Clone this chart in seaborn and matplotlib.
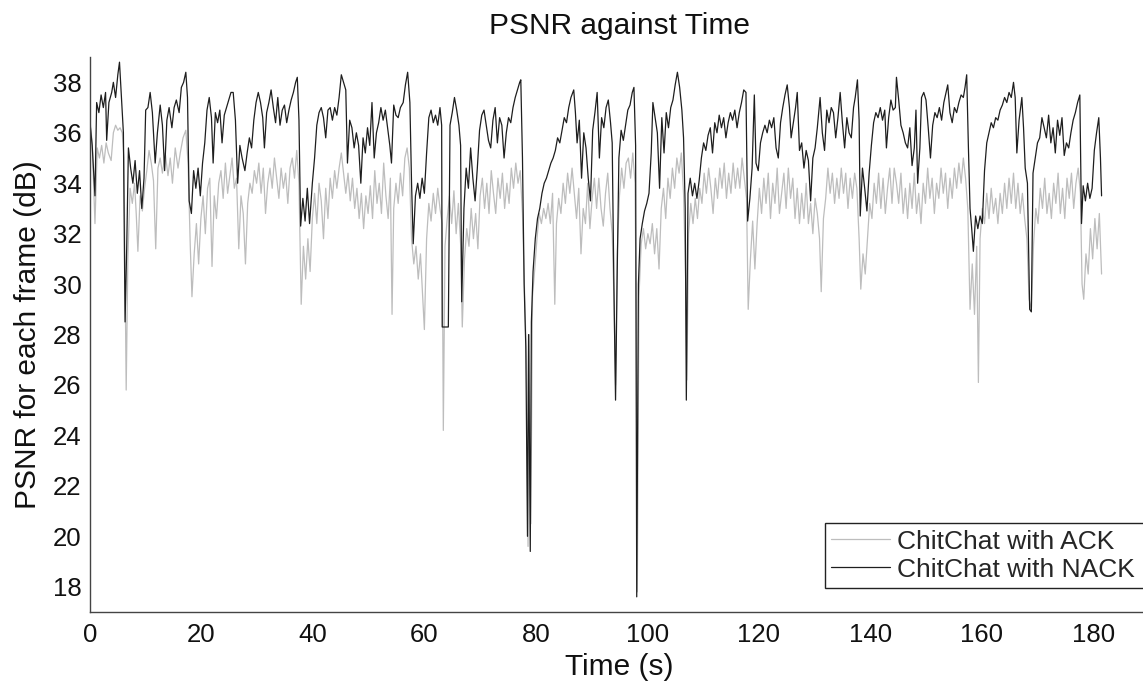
import matplotlib
matplotlib.use("Agg")
import matplotlib.pyplot as plt
import seaborn as sns
import pandas as pd

# ---- data ----
time_nack = [
    0.0, 0.4, 0.9, 1.2, 1.6, 2.0, 2.4, 2.8, 3.0, 3.4, 3.9, 4.2, 4.6, 5.0, 5.3, 5.6, 6.0, 6.3, 6.6, 6.9,
    7.3, 7.7, 8.1, 8.5, 8.9, 9.3, 9.7, 10.0, 10.4, 10.8, 11.2, 11.7, 12.1, 12.6, 13.0, 13.4, 13.8, 14.2, 14.7, 15.1,
    15.5, 16.0, 16.4, 16.8, 17.2, 17.5, 17.8, 18.2, 18.6, 19.0, 19.4, 19.8, 20.2, 20.6, 21.0, 21.4, 21.8, 22.1, 22.5, 22.9,
    23.3, 23.7, 24.1, 24.5, 24.9, 25.3, 25.7, 26.1, 26.5, 26.9, 27.3, 27.8, 28.2, 28.6, 29.0, 29.4, 29.8, 30.2, 30.6, 31.0,
    31.3, 31.7, 32.1, 32.5, 32.9, 33.3, 33.7, 34.1, 34.5, 34.9, 35.3, 35.7, 36.1, 36.5, 36.9, 37.2, 37.5, 37.8, 38.2, 38.6,
    39.0, 39.4, 39.9, 40.3, 40.7, 41.1, 41.5, 41.9, 42.3, 42.7, 43.1, 43.5, 43.9, 44.3, 44.7, 45.1, 45.5, 45.9, 46.2, 46.6,
    47.0, 47.4, 47.8, 48.2, 48.6, 49.0, 49.4, 49.8, 50.2, 50.6, 51.0, 51.4, 51.8, 52.2, 52.6, 53.0, 53.4, 53.8, 54.1, 54.5,
    54.9, 55.3, 55.7, 56.2, 56.6, 57.0, 57.4, 57.7, 58.0, 58.4, 58.8, 59.2, 59.6, 60.0, 60.4, 60.8, 61.2, 61.6, 62.0, 62.4,
    62.8, 63.1, 63.2, 64.3, 64.6, 65.0, 65.4, 65.8, 66.2, 66.5, 66.7, 67.1, 67.5, 67.9, 68.3, 68.7, 69.1, 69.5, 69.9, 70.3,
    70.7, 71.1, 71.5, 71.9, 72.3, 72.7, 73.1, 73.5, 73.9, 74.3, 74.7, 75.1, 75.5, 75.9, 76.3, 76.7, 77.1, 77.3, 77.6, 77.9,
    78.2, 78.5, 78.7, 79.0, 79.2, 79.5, 79.9, 80.3, 80.7, 81.1, 81.5, 81.9, 82.3, 82.7, 83.1, 83.5, 83.9, 84.3, 84.7, 85.1,
    85.5, 85.9, 86.3, 86.8, 87.1, 87.4, 87.8, 88.2, 88.6, 89.0, 89.4, 89.8, 90.2, 90.6, 91.0, 91.4, 91.8, 92.2, 92.6, 93.0,
    93.4, 93.7, 94.0, 94.3, 94.6, 94.9, 95.3, 95.7, 96.1, 96.5, 96.9, 97.3, 97.6, 97.9, 98.1, 98.4, 98.7, 99.1, 99.5, 99.9,
    100.3, 100.7, 101.0, 101.4, 101.8, 102.2, 102.6, 103.0, 103.4, 103.8, 104.2, 104.6, 105.0, 105.4, 105.8, 106.2, 106.5, 106.8, 107.0, 107.3,
    107.7, 108.1, 108.5, 108.9, 109.3, 109.7, 110.1, 110.5, 110.9, 111.3, 111.7, 112.1, 112.5, 112.9, 113.3, 113.7, 114.1, 114.5, 114.9, 115.3,
    115.7, 116.1, 116.5, 116.9, 117.3, 117.7, 118.0, 118.4, 118.8, 119.2, 119.5, 119.9, 120.3, 120.7, 121.1, 121.5, 121.9, 122.3, 122.7, 123.1,
    123.5, 123.9, 124.3, 124.7, 125.1, 125.5, 125.8, 126.2, 126.6, 126.9, 127.3, 127.7, 128.1, 128.5, 128.9, 129.3, 129.7, 130.1, 130.5, 131.0,
    131.4, 131.8, 132.2, 132.6, 133.0, 133.4, 133.8, 134.2, 134.6, 135.0, 135.4, 135.8, 136.2, 136.6, 137.0, 137.3, 137.7, 138.0, 138.2, 138.6,
    139.0, 139.4, 139.8, 140.2, 140.6, 141.0, 141.4, 141.8, 142.2, 142.6, 142.9, 143.3, 143.7, 144.1, 144.5, 144.7, 145.1, 145.5, 145.9, 146.3,
    146.7, 147.1, 147.5, 147.9, 148.2, 148.5, 148.9, 149.2, 149.6, 150.0, 150.4, 150.8, 151.2, 151.6, 152.0, 152.4, 152.8, 153.2, 153.6, 153.9,
    154.3, 154.7, 155.1, 155.5, 155.9, 156.3, 156.7, 157.0, 157.3, 157.6, 157.9, 158.2, 158.5, 158.9, 159.3, 159.7, 160.1, 160.5, 160.9, 161.3,
    161.7, 162.1, 162.5, 162.9, 163.3, 163.7, 164.1, 164.5, 164.9, 165.3, 165.7, 166.0, 166.3, 166.7, 167.2, 167.5, 167.8, 168.2, 168.6, 168.9,
    169.2, 169.6, 170.0, 170.4, 170.8, 171.2, 171.6, 172.0, 172.4, 172.8, 173.2, 173.6, 174.0, 174.4, 174.8, 175.2, 175.6, 176.0, 176.4, 176.8,
    177.2, 177.6, 177.9, 178.2, 178.6, 179.0, 179.4, 179.8, 180.2, 180.6, 181.0, 181.3, 181.5,
]
psnr_nack = [
    36.4, 35.5, 33.5, 37.2, 36.8, 37.5, 37.0, 37.6, 35.7, 37.2, 37.6, 38.0, 37.4, 38.3, 38.8, 37.6, 36.0, 28.5, 31.5, 35.4,
    34.6, 34.0, 34.9, 33.6, 34.5, 33.0, 34.2, 36.9, 37.0, 37.6, 36.8, 34.8, 36.0, 37.1, 36.3, 34.5, 36.5, 37.0, 36.2, 37.0,
    37.3, 36.8, 37.8, 38.0, 38.4, 37.4, 33.3, 32.8, 34.5, 33.8, 34.6, 33.5, 34.8, 35.6, 36.9, 37.4, 36.6, 34.8, 36.8, 36.4,
    36.9, 35.6, 36.7, 37.0, 37.3, 37.6, 37.6, 36.5, 34.0, 35.5, 35.0, 34.5, 35.2, 35.8, 35.4, 36.5, 37.2, 37.6, 37.2, 36.6,
    35.4, 36.8, 37.2, 37.7, 37.0, 36.4, 37.4, 36.3, 36.9, 37.1, 36.4, 36.9, 37.3, 37.6, 38.0, 38.2, 36.5, 32.3, 33.4, 32.5,
    33.8, 32.4, 34.0, 35.0, 36.3, 36.8, 37.0, 36.6, 35.8, 36.9, 37.0, 36.5, 37.0, 36.7, 37.4, 38.3, 38.0, 37.7, 34.8, 36.5,
    36.2, 35.4, 36.0, 35.5, 34.0, 35.8, 35.2, 36.2, 35.5, 37.2, 35.0, 36.0, 36.4, 37.0, 36.5, 36.9, 36.2, 35.5, 34.8, 37.1,
    36.7, 36.6, 37.0, 37.2, 37.9, 38.4, 37.2, 34.0, 31.6, 33.5, 34.0, 33.4, 34.2, 33.6, 35.2, 36.6, 36.9, 36.4, 36.7, 36.3,
    37.0, 36.3, 28.3, 28.3, 36.3, 36.8, 37.4, 36.9, 36.3, 35.5, 29.3, 33.0, 34.6, 33.8, 35.4, 34.2, 33.3, 34.6, 36.1, 36.7,
    36.9, 36.3, 35.7, 35.4, 36.5, 37.0, 35.6, 36.6, 36.3, 35.0, 36.0, 36.6, 36.4, 37.0, 37.4, 37.7, 38.0, 38.1, 35.0, 30.0,
    27.5, 20.0, 28.0, 19.4, 28.5, 30.5, 31.8, 32.6, 33.0, 33.6, 34.0, 34.2, 34.5, 34.8, 35.0, 35.3, 35.8, 35.6, 36.1, 36.6,
    36.4, 37.0, 37.4, 37.7, 36.8, 35.6, 36.5, 34.2, 36.0, 35.4, 34.2, 33.3, 36.1, 36.8, 37.6, 35.0, 36.6, 36.2, 37.0, 37.3,
    36.4, 35.6, 30.0, 25.4, 30.5, 35.0, 36.1, 35.7, 36.3, 36.9, 37.1, 37.6, 37.8, 35.5, 17.6, 30.0, 31.8, 32.4, 32.9, 33.2,
    33.6, 35.2, 37.2, 36.6, 36.0, 33.8, 36.6, 35.2, 36.8, 36.2, 37.0, 37.3, 37.9, 38.4, 37.8, 36.9, 35.8, 33.0, 25.4, 33.6,
    34.2, 33.5, 34.0, 33.4, 34.1, 35.0, 35.6, 35.3, 35.9, 36.2, 35.2, 36.4, 36.0, 36.7, 36.2, 36.6, 35.8, 36.4, 36.8, 36.5,
    36.9, 36.2, 36.8, 37.2, 37.7, 37.6, 32.5, 33.4, 34.6, 37.5, 34.8, 34.5, 35.6, 36.0, 36.3, 36.0, 36.5, 36.2, 36.6, 35.4,
    35.0, 36.4, 37.0, 37.5, 37.9, 37.0, 35.8, 36.4, 37.0, 37.6, 35.3, 35.6, 34.6, 35.3, 34.9, 33.3, 35.0, 35.4, 36.2, 37.4,
    36.0, 35.3, 36.9, 36.4, 37.0, 36.8, 35.8, 36.6, 37.6, 36.4, 35.4, 36.6, 36.0, 35.8, 37.0, 37.4, 38.1, 36.5, 32.7, 34.6,
    33.8, 32.9, 34.4, 35.5, 36.4, 36.8, 36.6, 37.0, 36.5, 36.9, 35.4, 36.6, 37.3, 36.9, 37.0, 38.2, 37.3, 36.3, 36.0, 35.6,
    35.4, 36.2, 34.7, 35.4, 36.9, 34.0, 35.4, 37.4, 37.6, 37.3, 36.2, 35.0, 36.3, 36.8, 36.6, 37.0, 36.5, 37.2, 37.6, 37.9,
    36.8, 36.4, 37.0, 36.8, 37.2, 37.5, 37.4, 37.8, 38.3, 35.5, 33.0, 32.2, 31.3, 32.7, 32.2, 32.7, 32.4, 34.5, 35.6, 36.0,
    36.4, 36.2, 36.6, 36.5, 36.9, 37.1, 37.4, 37.2, 37.6, 37.4, 38.0, 37.4, 35.2, 36.5, 37.4, 36.2, 34.6, 34.0, 29.0, 28.9,
    34.4, 35.0, 35.6, 35.8, 36.6, 36.2, 35.8, 36.7, 35.6, 36.2, 35.2, 36.5, 35.9, 36.6, 35.1, 35.6, 35.4, 36.0, 36.5, 36.8,
    37.2, 37.5, 32.4, 33.9, 33.3, 34.0, 33.4, 33.8, 35.3, 36.0, 36.6, 35.0, 33.5,
]

time_ack = [
    0.0, 0.4, 0.9, 1.3, 1.7, 2.1, 2.5, 2.9, 3.3, 3.8, 4.2, 4.6, 5.0, 5.4, 5.8, 6.1, 6.5, 6.8, 7.2, 7.6,
    8.0, 8.3, 8.6, 9.0, 9.4, 9.8, 10.2, 10.6, 11.0, 11.4, 11.8, 12.2, 12.6, 13.0, 13.5, 14.0, 14.4, 14.8, 15.3, 15.8,
    16.2, 16.7, 17.2, 17.6, 18.0, 18.3, 18.7, 19.1, 19.5, 19.9, 20.3, 20.7, 21.1, 21.5, 21.9, 22.3, 22.7, 23.1, 23.5, 23.9,
    24.3, 24.7, 25.1, 25.5, 25.9, 26.3, 26.7, 27.1, 27.5, 27.9, 28.3, 28.7, 29.1, 29.5, 29.9, 30.3, 30.7, 31.1, 31.5, 31.9,
    32.3, 32.7, 33.1, 33.5, 33.9, 34.3, 34.7, 35.1, 35.5, 35.9, 36.3, 36.7, 37.1, 37.5, 37.9, 38.3, 38.7, 39.1, 39.5, 39.9,
    40.3, 40.7, 41.1, 41.5, 41.9, 42.3, 42.7, 43.1, 43.5, 43.9, 44.3, 44.7, 45.1, 45.5, 45.9, 46.3, 46.7, 47.1, 47.5, 47.9,
    48.3, 48.7, 49.1, 49.5, 49.9, 50.3, 50.7, 51.1, 51.5, 51.9, 52.3, 52.7, 53.1, 53.5, 53.9, 54.2, 54.5, 54.9, 55.3, 55.7,
    56.1, 56.5, 56.9, 57.3, 57.7, 58.1, 58.5, 58.9, 59.3, 59.7, 60.0, 60.4, 60.8, 61.2, 61.6, 62.0, 62.4, 62.8, 63.2, 63.4,
    63.7, 64.1, 64.5, 64.9, 65.3, 65.7, 66.1, 66.5, 66.8, 67.2, 67.6, 68.0, 68.4, 68.8, 69.2, 69.6, 70.0, 70.4, 70.8, 71.2,
    71.6, 72.0, 72.4, 72.8, 73.2, 73.6, 74.0, 74.4, 74.8, 75.2, 75.6, 76.0, 76.4, 76.8, 77.2, 77.6, 77.9, 78.3, 78.6, 78.8,
    79.1, 79.4, 79.8, 80.2, 80.6, 81.0, 81.4, 81.8, 82.2, 82.6, 83.0, 83.4, 83.7, 84.1, 84.5, 84.9, 85.3, 85.7, 86.1, 86.5,
    86.9, 87.3, 87.7, 88.1, 88.5, 88.9, 89.3, 89.7, 90.1, 90.5, 90.9, 91.3, 91.7, 92.1, 92.5, 92.9, 93.3, 93.7, 94.0, 94.3,
    94.6, 95.0, 95.4, 95.8, 96.2, 96.6, 97.0, 97.4, 97.8, 98.0, 98.2, 98.5, 98.9, 99.3, 99.7, 100.1, 100.5, 100.9, 101.3, 101.7,
    102.1, 102.5, 102.9, 103.3, 103.7, 104.1, 104.5, 104.9, 105.3, 105.7, 106.1, 106.5, 106.9, 107.1, 107.4, 107.8, 108.2, 108.6, 109.0, 109.4,
    109.8, 110.2, 110.6, 111.0, 111.4, 111.8, 112.2, 112.6, 113.0, 113.4, 113.8, 114.2, 114.6, 115.0, 115.4, 115.8, 116.2, 116.6, 117.0, 117.4,
    117.8, 118.1, 118.5, 118.9, 119.3, 119.7, 120.1, 120.5, 120.9, 121.3, 121.7, 122.1, 122.5, 122.9, 123.3, 123.7, 124.1, 124.5, 124.9, 125.3,
    125.7, 126.1, 126.5, 126.9, 127.3, 127.7, 128.1, 128.5, 128.9, 129.3, 129.7, 130.1, 130.5, 130.9, 131.2, 131.6, 132.0, 132.4, 132.8, 133.2,
    133.6, 134.0, 134.4, 134.8, 135.2, 135.6, 136.0, 136.4, 136.8, 137.2, 137.6, 138.0, 138.3, 138.7, 139.1, 139.5, 139.9, 140.3, 140.7, 141.1,
    141.5, 141.9, 142.3, 142.7, 143.1, 143.5, 143.9, 144.3, 144.7, 145.1, 145.5, 145.9, 146.3, 146.7, 147.1, 147.5, 147.9, 148.3, 148.7, 149.1,
    149.5, 149.9, 150.3, 150.7, 151.1, 151.5, 151.9, 152.3, 152.7, 153.1, 153.5, 153.9, 154.3, 154.7, 155.1, 155.5, 155.9, 156.3, 156.7, 157.1,
    157.5, 157.9, 158.3, 158.7, 159.1, 159.4, 159.7, 160.1, 160.5, 160.9, 161.3, 161.7, 162.1, 162.5, 162.9, 163.3, 163.7, 164.1, 164.5, 164.9,
    165.3, 165.7, 166.1, 166.5, 166.9, 167.3, 167.7, 168.1, 168.5, 168.9, 169.3, 169.7, 170.1, 170.5, 170.9, 171.3, 171.7, 172.1, 172.5, 172.9,
    173.3, 173.7, 174.1, 174.5, 174.9, 175.3, 175.7, 176.1, 176.5, 176.9, 177.3, 177.7, 178.0, 178.3, 178.7, 179.1, 179.5, 179.9, 180.3, 180.7,
    181.1, 181.5,
]
psnr_ack = [
    36.5, 35.6, 32.4, 35.4, 35.0, 35.5, 34.8, 35.6, 35.2, 34.9, 36.0, 36.3, 36.1, 36.2, 36.0, 35.0, 25.8, 31.0, 33.8, 33.2,
    34.0, 32.8, 31.3, 33.5, 32.9, 33.8, 34.5, 35.3, 34.8, 34.1, 31.4, 34.6, 35.0, 34.4, 35.2, 34.3, 35.0, 34.0, 35.4, 34.6,
    35.2, 35.8, 36.1, 34.8, 31.5, 29.5, 31.2, 32.4, 30.8, 32.6, 33.5, 32.0, 33.8, 34.2, 30.7, 33.5, 32.6, 34.0, 34.5, 33.4,
    34.8, 33.6, 34.3, 35.0, 33.8, 34.2, 31.4, 33.5, 32.8, 30.8, 33.2, 34.0, 33.6, 34.5, 34.0, 34.8, 33.6, 34.6, 32.8, 34.0,
    34.6, 33.8, 35.0, 34.2, 33.4, 34.6, 33.8, 34.4, 33.2, 34.6, 35.0, 34.2, 35.3, 34.0, 29.2, 31.5, 30.2, 31.8, 30.5, 32.6,
    33.6, 32.4, 34.0, 33.3, 31.8, 33.8, 32.6, 34.2, 33.4, 34.5, 33.8, 34.6, 35.2, 34.4, 33.6, 34.4, 33.3, 34.2, 33.0, 33.8,
    32.6, 33.6, 32.2, 33.5, 32.8, 33.9, 32.6, 34.5, 33.2, 34.0, 32.8, 34.8, 33.5, 32.6, 34.2, 28.8, 33.0, 34.0, 33.2, 34.4,
    33.5, 35.0, 35.4, 34.6, 31.8, 30.8, 31.5, 30.2, 31.2, 29.5, 28.2, 31.8, 33.2, 32.5, 33.6, 32.8, 33.8, 33.0, 32.4, 24.2,
    31.5, 32.6, 33.5, 32.4, 33.7, 32.0, 33.2, 31.6, 28.3, 31.0, 32.2, 31.5, 33.0, 31.8, 32.8, 31.4, 33.5, 34.2, 33.0, 34.0,
    32.8, 34.5, 33.6, 32.8, 34.2, 33.4, 34.4, 33.0, 34.0, 33.2, 34.6, 33.8, 34.8, 34.0, 34.5, 32.8, 30.3, 27.0, 19.6, 28.0,
    20.5, 29.5, 30.6, 31.8, 32.8, 32.4, 33.0, 32.6, 33.2, 32.4, 33.6, 29.2, 32.4, 33.4, 32.8, 34.0, 33.2, 34.4, 33.6, 34.6,
    33.6, 32.6, 33.8, 31.2, 33.0, 32.4, 34.0, 32.2, 33.4, 34.2, 33.0, 34.2, 33.0, 32.3, 33.6, 34.4, 33.0, 32.0, 29.6, 26.0,
    31.2, 33.5, 34.6, 33.8, 34.8, 35.0, 34.2, 35.2, 34.0, 29.0, 17.8, 29.5, 31.6, 32.2, 31.4, 32.0, 31.6, 32.4, 31.2, 32.2,
    30.6, 33.0, 33.8, 32.6, 34.2, 33.4, 34.6, 33.8, 35.0, 34.4, 35.2, 33.6, 30.0, 26.2, 32.0, 33.2, 32.4, 33.4, 32.6, 33.8,
    33.2, 34.4, 33.6, 34.6, 33.8, 32.8, 34.2, 33.4, 34.6, 33.8, 34.8, 33.4, 34.4, 33.6, 34.8, 33.8, 34.6, 33.8, 35.0, 34.2,
    33.4, 29.0, 31.0, 32.5, 30.6, 32.4, 33.8, 32.8, 34.2, 33.2, 34.4, 32.6, 34.0, 33.2, 34.6, 32.8, 33.6, 34.4, 33.0, 34.6,
    33.4, 34.2, 32.6, 33.8, 32.4, 33.6, 32.6, 34.0, 32.4, 33.2, 32.0, 33.4, 32.8, 31.8, 29.7, 32.6, 33.4, 34.6, 33.6, 34.4,
    33.2, 34.2, 33.4, 34.6, 33.6, 34.4, 33.0, 34.2, 33.4, 34.4, 33.8, 31.8, 29.8, 31.2, 30.4, 31.8, 33.2, 32.6, 34.0, 33.2,
    34.4, 33.0, 34.2, 32.8, 33.8, 34.6, 33.2, 34.6, 34.0, 33.2, 34.4, 32.8, 33.8, 32.6, 34.0, 33.0, 34.4, 32.8, 33.6, 32.4,
    34.0, 33.2, 34.6, 33.4, 34.2, 32.8, 34.0, 33.4, 34.6, 33.6, 34.4, 33.0, 34.2, 33.4, 34.6, 33.8, 34.8, 34.0, 35.0, 34.2,
    33.0, 29.0, 30.8, 28.8, 31.5, 26.1, 31.8, 33.0, 32.4, 33.6, 32.6, 33.8, 32.8, 33.4, 32.4, 33.6, 32.8, 34.0, 33.0, 34.2,
    33.2, 34.4, 33.0, 34.0, 32.8, 33.6, 32.6, 31.8, 29.4, 29.0, 31.6, 33.0, 32.4, 33.8, 33.0, 34.2, 32.8, 33.6, 32.6, 34.0,
    33.2, 34.4, 32.8, 33.8, 32.6, 34.2, 33.4, 34.4, 33.0, 34.0, 34.6, 33.6, 30.0, 29.4, 31.2, 30.4, 32.2, 31.0, 32.6, 31.4,
    32.8, 30.4,
]

series_labels = ["ChitChat with ACK", "ChitChat with NACK"]
x_ticks = [0, 20, 40, 60, 80, 100, 120, 140, 160, 180]
y_ticks = [18, 20, 22, 24, 26, 28, 30, 32, 34, 36, 38]

df_ack = pd.DataFrame({"Time": time_ack, "PSNR": psnr_ack})
df_nack = pd.DataFrame({"Time": time_nack, "PSNR": psnr_nack})

sns.set_style("white")
plt.rcParams["font.family"] = ["Liberation Sans", "DejaVu Sans"]

fig = plt.figure(figsize=(11.43, 6.85), dpi=100)
ax = fig.add_axes([0.0787, 0.1066, 0.9265, 0.810])

sns.lineplot(data=df_ack, x="Time", y="PSNR", ax=ax, color="#bdbdbd", linewidth=0.9,
             estimator=None, sort=False, label=series_labels[0])
sns.lineplot(data=df_nack, x="Time", y="PSNR", ax=ax, color="#1e1e1e", linewidth=0.9,
             estimator=None, sort=False, label=series_labels[1])

ax.set_xlim(0, 190)
ax.set_ylim(17, 39)
ax.set_xticks(x_ticks)
ax.set_yticks(y_ticks)
ax.tick_params(axis="both", direction="in", length=7.5, width=1, labelsize=18.5,
               color="#333333", labelcolor="#111111")
ax.tick_params(axis="x", pad=8)
ax.tick_params(axis="y", pad=6)

for side in ["top", "right"]:
    ax.spines[side].set_visible(False)
for side in ["left", "bottom"]:
    ax.spines[side].set_color("#444444")
    ax.spines[side].set_linewidth(1.0)

ax.set_title("PSNR against Time", fontsize=21.5, pad=17, color="#111111")
ax.set_xlabel("Time (s)", fontsize=21.5, labelpad=4, color="#111111")
ax.set_ylabel("PSNR for each frame (dB)", fontsize=21.5, labelpad=8, color="#111111")

leg = ax.legend(loc="lower left", bbox_to_anchor=(0.694, 0.043, 0.33, 0.137), mode="expand",
                fontsize=19, frameon=True, fancybox=False, framealpha=1,
                edgecolor="#222222", handlelength=2.2, handletextpad=0.3,
                borderpad=0.25, labelspacing=0.15, borderaxespad=0)
leg.get_frame().set_linewidth(1.0)

fig.savefig("out.png", dpi=100)
